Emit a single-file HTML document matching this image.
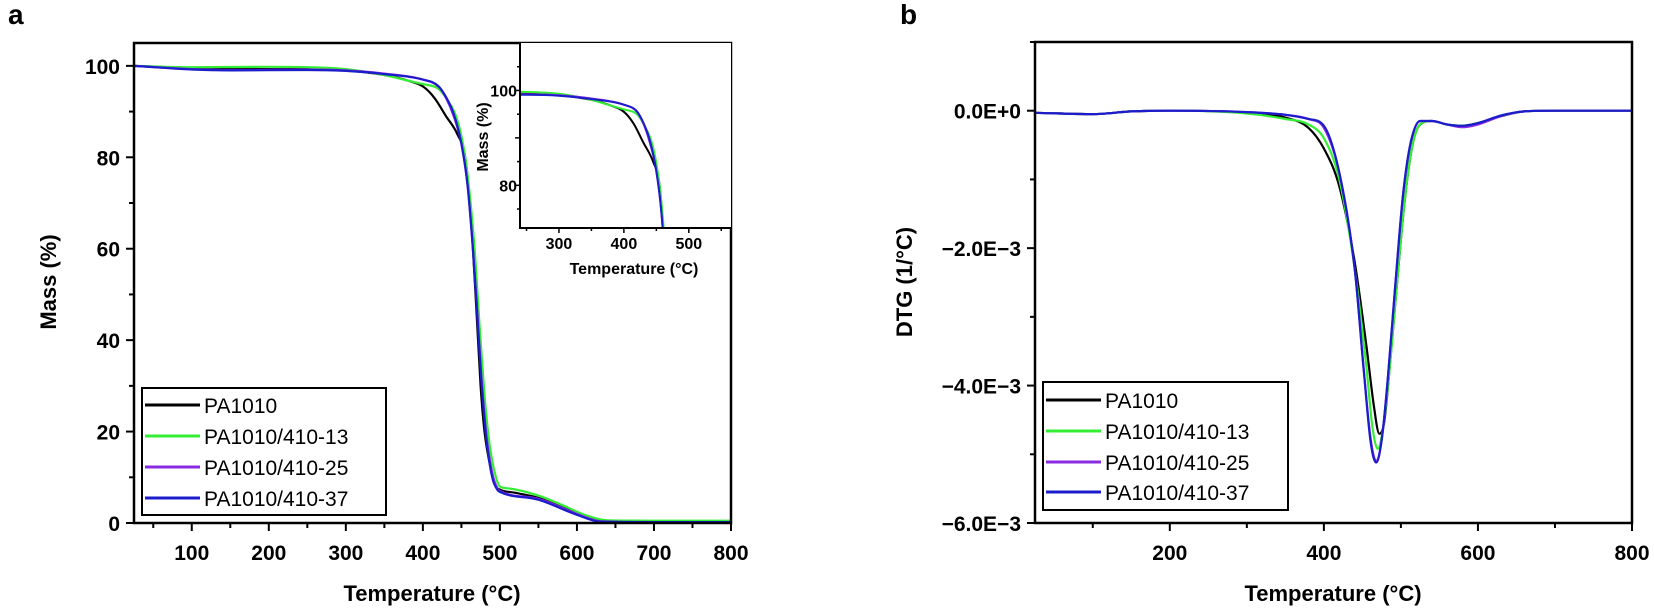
<!DOCTYPE html>
<html><head><meta charset="utf-8">
<style>
html,body{margin:0;padding:0;background:#fff;}
svg{display:block;font-family:"Liberation Sans",Arial,sans-serif;}
.tk{font-weight:bold;font-size:21px;}
.ttl{font-weight:bold;font-size:22px;}
.itk{font-weight:bold;font-size:16px;}
.lg{font-size:21px;}
</style></head>
<body>
<svg id="fig" width="1654" height="610" viewBox="0 0 1654 610"></svg>
<script>
// ---- Data ----
const tempsK = [25,100,150,250,300,350,380,400,415,430,445,455,460,465,470,475,480,488,495,500,520,550,580,610,640,700,800];
const massPA1010 = [100,99.5,99.3,99.3,99.0,98,96.8,95.5,93,89,85,80,72,60,45,30,20,12,8,7.3,6.6,5.5,3.5,1.5,0.4,0.3,0.3];
const temps13 = [25,100,200,250,300,350,380,400,420,430,445,455,462,468,474,480,486,492,500,510,550,580,610,640,700,800];
const mass13 = [100,99.7,99.8,99.7,99.3,98,96.8,96,95,93,88,80,70,58,42,28,18,12,8,7.6,6,4,1.8,0.6,0.5,0.5];
const temps25 = [25,100,150,250,300,350,400,420,430,440,450,458,465,470,476,482,490,497,500,550,600,630,700,800];
const mass25 = [100,99.3,99.1,99.2,99.0,98.3,97,95.5,93,89,83,74,60,48,32,20,11,7.5,7,5.3,2,0.4,0.2,0.2];
const temps37 = [25,100,150,250,300,350,400,420,430,440,450,458,465,470,476,482,490,497,500,550,600,630,700,800];
const mass37 = [100,99.2,99.0,99.1,98.9,98.2,97,95.6,93.2,89.5,83,74,60,47,31,19,10,7.2,6.8,5.1,1.8,0.3,0.2,0.2];

const dT = [25,100,150,200,300,350,380,400,420,440,455,465,472,478,485,495,505,515,525,540,560,580,600,630,660,700,800];
const dtgPA1010 = [-0.03,-0.05,-0.01,0,-0.03,-0.1,-0.25,-0.55,-1.1,-2.2,-3.4,-4.3,-4.7,-4.55,-3.8,-2.5,-1.3,-0.5,-0.2,-0.15,-0.2,-0.22,-0.18,-0.08,-0.01,0,0];
const dT13 = [25,100,150,200,300,350,380,400,420,440,455,463,470,477,485,495,505,515,527,540,560,580,600,630,660,700,800];
const dtg13 = [-0.03,-0.05,-0.01,0,-0.04,-0.12,-0.2,-0.4,-1.0,-2.3,-3.7,-4.6,-4.92,-4.6,-3.8,-2.5,-1.3,-0.5,-0.18,-0.15,-0.2,-0.22,-0.18,-0.08,-0.01,0,0];
const dT25 = [25,100,150,200,300,350,380,400,420,440,452,461,468,475,483,493,503,513,525,540,560,580,600,630,660,700,800];
const dtg25 = [-0.03,-0.05,-0.01,0,-0.02,-0.06,-0.12,-0.25,-0.9,-2.3,-3.8,-4.8,-5.1,-4.8,-3.9,-2.5,-1.2,-0.45,-0.15,-0.15,-0.2,-0.24,-0.2,-0.08,-0.01,0,0];
const dT37 = [25,100,150,200,300,350,380,400,420,440,452,461,468,475,483,493,503,513,525,540,560,580,600,630,660,700,800];
const dtg37 = [-0.03,-0.05,-0.01,0,-0.02,-0.06,-0.12,-0.22,-0.9,-2.3,-3.8,-4.85,-5.12,-4.8,-3.9,-2.5,-1.2,-0.45,-0.15,-0.15,-0.2,-0.22,-0.18,-0.07,-0.01,0,0];

const seriesNames = ["PA1010","PA1010/410-13","PA1010/410-25","PA1010/410-37"];
const seriesColors = ["#000000","#33ee33","#8a2be2","#1c1ccc"];
const xTicksMain = [100,200,300,400,500,600,700,800];
const yTicksMain = [0,20,40,60,80,100];
const xTicksInset = [300,400,500];
const yTicksInset = [80,100];
const xTicksDTG = [200,400,600,800];
const yTicksDTG = [0,-2,-4,-6];
const yLabelsDTG = ["0.0E+0","\u22122.0E\u22123","\u22124.0E\u22123","\u22126.0E\u22123"];

const NS="http://www.w3.org/2000/svg";
const svg=document.getElementById('fig');
function mk(tag,attrs,parent){const e=document.createElementNS(NS,tag);for(const k in attrs)e.setAttribute(k,attrs[k]);(parent||svg).appendChild(e);return e;}
function scale(d0,d1,r0,r1){return v=>r0+(v-d0)*(r1-r0)/(d1-d0);}
// monotone cubic path
function pathD(xs,ys,sx,sy){
  const X=xs.map(sx),Y=ys.map(sy),n=X.length;
  const d=[],m=new Array(n);
  for(let i=0;i<n-1;i++)d.push((Y[i+1]-Y[i])/(X[i+1]-X[i]));
  m[0]=d[0];m[n-1]=d[n-2];
  for(let i=1;i<n-1;i++){m[i]=(d[i-1]*d[i]<=0)?0:(d[i-1]+d[i])/2;}
  for(let i=0;i<n-1;i++){
    if(d[i]===0){m[i]=0;m[i+1]=0;continue;}
    const a=m[i]/d[i],b=m[i+1]/d[i],s=a*a+b*b;
    if(s>9){const t=3/Math.sqrt(s);m[i]=t*a*d[i];m[i+1]=t*b*d[i];}
  }
  let p='M'+X[0].toFixed(1)+','+Y[0].toFixed(1);
  for(let i=0;i<n-1;i++){const h=(X[i+1]-X[i])/3;
    p+='C'+(X[i]+h).toFixed(1)+','+(Y[i]+m[i]*h).toFixed(1)+' '+(X[i+1]-h).toFixed(1)+','+(Y[i+1]-m[i+1]*h).toFixed(1)+' '+X[i+1].toFixed(1)+','+Y[i+1].toFixed(1);}
  return p;
}

const defs=mk('defs',{});
const c1=mk('clipPath',{id:'clipA'},defs);mk('rect',{x:134,y:43,width:597,height:480},c1);
const c2=mk('clipPath',{id:'clipI'},defs);mk('rect',{x:520,y:43,width:211,height:185},c2);
const c3=mk('clipPath',{id:'clipB'},defs);mk('rect',{x:1035,y:42,width:597,height:481},c3);

// ---------- Panel a ----------
const ax=scale(25,800,134,731), ay=scale(0,105,523,43);
let t=mk('text',{x:8,y:24,'font-size':28,'font-weight':'bold'});t.textContent='a';

const ga=mk('g',{'clip-path':'url(#clipA)'});

const tgaX=[tempsK,temps13,temps25,temps37], tgaY=[massPA1010,mass13,mass25,mass37];
for(let i=0;i<4;i++){const p=mk('path',{d:pathD(tgaX[i],tgaY[i],ax,ay),fill:'none',stroke:seriesColors[i],'stroke-width':2.2,'stroke-linejoin':'round'},ga);
}
let fr=mk('rect',{x:134,y:43,width:597,height:480,fill:'none',stroke:'#000','stroke-width':2.5});

for(let v=50;v<=800;v+=50){const x=ax(v);mk('line',{x1:x,y1:523,x2:x,y2:v%100==0?531:528,stroke:'#000','stroke-width':2});}
for(const v of xTicksMain){t=mk('text',{x:ax(v),y:560,'text-anchor':'middle',class:'tk'});t.textContent=v;
}
for(let v=0;v<=100;v+=10){const y=ay(v);mk('line',{x1:134,y1:y,x2:v%20==0?126:129,y2:y,stroke:'#000','stroke-width':2});}
for(const v of yTicksMain){t=mk('text',{x:120,y:ay(v)+8,'text-anchor':'end',class:'tk'});t.textContent=v;
}
t=mk('text',{x:432,y:601,'text-anchor':'middle',class:'ttl'});t.textContent='Temperature (°C)';

t=mk('text',{x:0,y:0,'text-anchor':'middle',class:'ttl',transform:'translate(56,282) rotate(-90)'});t.textContent='Mass (%)';


// inset
const ix=scale(240,565,520,731), iy=scale(71,110,228,43);
mk('rect',{x:520,y:43,width:211,height:185,fill:'#fff'});
const gi=mk('g',{'clip-path':'url(#clipI)'});

for(let i=0;i<4;i++){const p=mk('path',{d:pathD(tgaX[i],tgaY[i],ix,iy),fill:'none',stroke:seriesColors[i],'stroke-width':2,'stroke-linejoin':'round'},gi);
}
mk('polyline',{points:'520,43 520,228 731,228',fill:'none',stroke:'#000','stroke-width':2});
for(let v=250;v<=550;v+=50){const x=ix(v);mk('line',{x1:x,y1:228,x2:x,y2:v%100==0?233:231,stroke:'#000','stroke-width':1.5});}
for(const v of xTicksInset){t=mk('text',{x:ix(v),y:249,'text-anchor':'middle',class:'itk'});t.textContent=v;
}
for(let v=75;v<=105;v+=5){const y=iy(v);mk('line',{x1:520,y1:y,x2:v%10==0?515:517,y2:y,stroke:'#000','stroke-width':1.5});}
for(const v of yTicksInset){t=mk('text',{x:517,y:iy(v)+6,'text-anchor':'end',class:'itk'});t.textContent=v;
}
t=mk('text',{x:634,y:274,'text-anchor':'middle',class:'itk'});t.textContent='Temperature (°C)';

t=mk('text',{x:0,y:0,'text-anchor':'middle',class:'itk',transform:'translate(488,137) rotate(-90)'});t.textContent='Mass (%)';


function legend(x0,y0,w,h,rows,name){
 const g=mk('g',{});
 mk('rect',{x:x0,y:y0,width:w,height:h,fill:'#fff',stroke:'#000','stroke-width':2},g);
 for(let i=0;i<4;i++){const y=rows[i];
  const e=mk('g',{},g);
  mk('line',{x1:x0+3,y1:y,x2:x0+58,y2:y,stroke:seriesColors[i],'stroke-width':3},e);
  const tt=mk('text',{x:x0+62,y:y+8,class:'lg'},e);tt.textContent=seriesNames[i];}
}
legend(142,388,244,127,[405,436,467,498],'legend-a');

// ---------- Panel b ----------
const bx=scale(25,800,1035,1632), by=scale(-6,1,523,42);
t=mk('text',{x:900,y:24,'font-size':28,'font-weight':'bold'});t.textContent='b';

const gb=mk('g',{'clip-path':'url(#clipB)'});

const dX=[dT,dT13,dT25,dT37], dY=[dtgPA1010,dtg13,dtg25,dtg37];
for(let i=0;i<4;i++){const p=mk('path',{d:pathD(dX[i],dY[i],bx,by),fill:'none',stroke:seriesColors[i],'stroke-width':2.2,'stroke-linejoin':'round'},gb);
}
fr=mk('rect',{x:1035,y:42,width:597,height:481,fill:'none',stroke:'#000','stroke-width':2.5});

for(let v=100;v<=800;v+=100){const x=bx(v);mk('line',{x1:x,y1:523,x2:x,y2:v%200==0?531:528,stroke:'#000','stroke-width':2});}
for(const v of xTicksDTG){t=mk('text',{x:bx(v),y:560,'text-anchor':'middle',class:'tk'});t.textContent=v;
}
for(let v=-6;v<=1;v+=1){const y=by(v);mk('line',{x1:1035,y1:y,x2:v%2==0?1027:1030,y2:y,stroke:'#000','stroke-width':2});}
yTicksDTG.forEach((v,i)=>{t=mk('text',{x:1021,y:by(v)+8,'text-anchor':'end',class:'tk'});t.textContent=yLabelsDTG[i];
});
t=mk('text',{x:1333,y:601,'text-anchor':'middle',class:'ttl'});t.textContent='Temperature (°C)';

t=mk('text',{x:0,y:0,'text-anchor':'middle',class:'ttl',transform:'translate(912,282) rotate(-90)'});t.textContent='DTG (1/°C)';

legend(1043,382,245,128,[400,431,462,492],'legend-b');
</script>
</body></html>
